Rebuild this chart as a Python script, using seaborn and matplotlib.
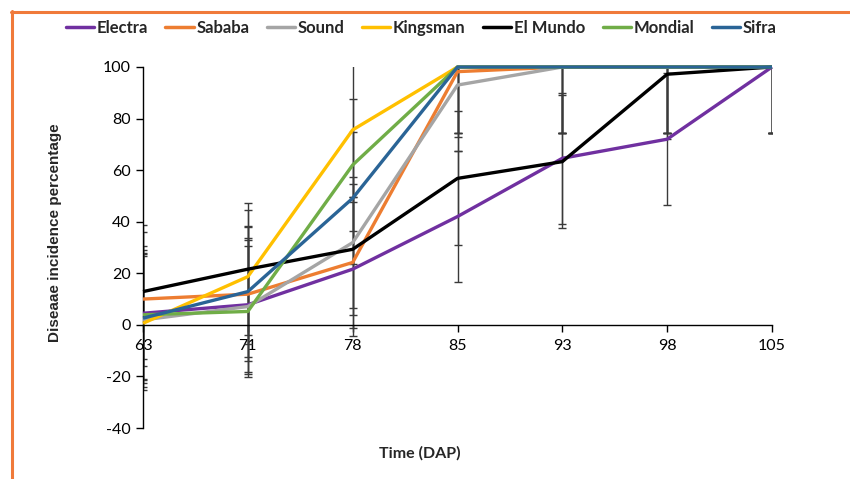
import matplotlib
matplotlib.use("Agg")
import matplotlib.pyplot as plt
import seaborn as sns
import pandas as pd
import numpy as np
from matplotlib.lines import Line2D

# ---- data ----
days = ["63", "71", "78", "85", "93", "98", "105"]
electra  = [4.5, 7.8, 21.6, 42.0, 64.6, 72.0, 100]
sababa   = [10.0, 11.9, 24.2, 98.2, 100, 100, 100]
sound    = [1.9, 7.1, 31.9, 93.0, 100, 100, 100]
kingsman = [0.6, 18.7, 75.6, 100, 100, 100, 100]
el_mundo = [12.9, 21.6, 29.3, 56.8, 63.3, 97.2, 100]
mondial  = [3.9, 5.2, 62.0, 100, 100, 100, 100]
sifra    = [2.6, 12.9, 49.1, 100, 100, 100, 100]

err_electra  = [26, 26, 26, 25.5, 25.5, 25.5, 25.6]
err_sababa   = [26, 26, 25.5, 25.5, 25.6, 25.6, 25.6]
err_sound    = [26, 26, 25.5, 25.5, 25.6, 25.6, 25.6]
err_kingsman = [26, 26, 26, 25.6, 25.6, 25.6, 25.6]
err_el_mundo = [26, 25.5, 25.5, 26, 25.8, 25, 25.6]
err_mondial  = [25, 25.5, 25.5, 25.6, 25.6, 25.6, 25.6]
err_sifra    = [25, 25.5, 25.6, 25.6, 25.6, 25.6, 25.6]

names = ["Electra", "Sababa", "Sound", "Kingsman", "El Mundo", "Mondial", "Sifra"]
values = [electra, sababa, sound, kingsman, el_mundo, mondial, sifra]
errors = [err_electra, err_sababa, err_sound, err_kingsman, err_el_mundo, err_mondial, err_sifra]
colors = ["#7030A0", "#ED7D31", "#A5A5A5", "#FFC000", "#000000", "#70AD47", "#2A6496"]

rows = []
for n, vals in zip(names, values):
    for i, (d, v) in enumerate(zip(days, vals)):
        rows.append({"variety": n, "pos": i, "day": d, "value": v})
df = pd.DataFrame(rows)

sns.set_theme(style="white")
plt.rcParams["font.family"] = ["Lato", "DejaVu Sans"]
plt.rcParams["axes.unicode_minus"] = False

fig = plt.figure(figsize=(8.5, 4.79), dpi=100)
ax = fig.add_axes([143/850, 1-428/479, (772-143)/850, (428-67)/479])

sns.lineplot(data=df, x="pos", y="value", hue="variety", hue_order=names,
             palette=dict(zip(names, colors)), linewidth=2.4, ax=ax,
             legend=False, zorder=3)
for l in list(ax.lines):
    l.set_clip_on(False)
    l.set_solid_capstyle("butt")

# error bars (clipped at the axes)
for n, vals, errs in zip(names, values, errors):
    ax.errorbar(range(len(days)), vals, yerr=errs, fmt="none",
                ecolor="#3a3a3a", elinewidth=1.0, capsize=3, capthick=1.0, zorder=1)

ax.set_xlim(0, 6)
ax.set_ylim(-40, 100)
ax.set_yticks(np.arange(-40, 101, 20))
ax.set_xticks(range(len(days)))
ax.set_xticklabels(days)

for s in ["top", "right"]:
    ax.spines[s].set_visible(False)
ax.spines["bottom"].set_position(("data", 0))
for s in ["left", "bottom"]:
    ax.spines[s].set_color("#000000")
    ax.spines[s].set_linewidth(1.0)

ax.tick_params(axis="both", which="major", direction="out", length=5, width=1,
               color="#000000", labelsize=11.5, labelcolor="#000000",
               bottom=True, left=True)
ax.tick_params(axis="x", pad=5)
ax.tick_params(axis="y", pad=4)

ax.set_xlabel("Time (DAP)", fontsize=11.5, fontweight="bold", labelpad=0)
ax.xaxis.set_label_coords(0.44, -0.05)
ax.set_ylabel("Diseaae incidence percentage", fontsize=11, fontweight="bold",
              family=["Liberation Sans", "DejaVu Sans"])
ax.yaxis.set_label_coords(-0.128, 0.54)
ax.grid(False)

handles = [Line2D([0], [0], color=c, lw=2.5) for c in colors]
leg = fig.legend(handles, names, loc="center", bbox_to_anchor=(421/850, 1-28/479),
                 ncol=7, frameon=False, handlelength=1.7, handletextpad=0.15,
                 columnspacing=1.05, prop={"weight": "bold", "size": 12})

# orange frame
fig.add_artist(Line2D([11/850, 1.0], [1-12/479, 1-12/479], color="#F07A3A", lw=2.2,
                      transform=fig.transFigure))
fig.add_artist(Line2D([12/850, 12/850], [0, 1-11/479], color="#F07A3A", lw=2.2,
                      transform=fig.transFigure))

fig.savefig("out.png", dpi=100, facecolor="white")
